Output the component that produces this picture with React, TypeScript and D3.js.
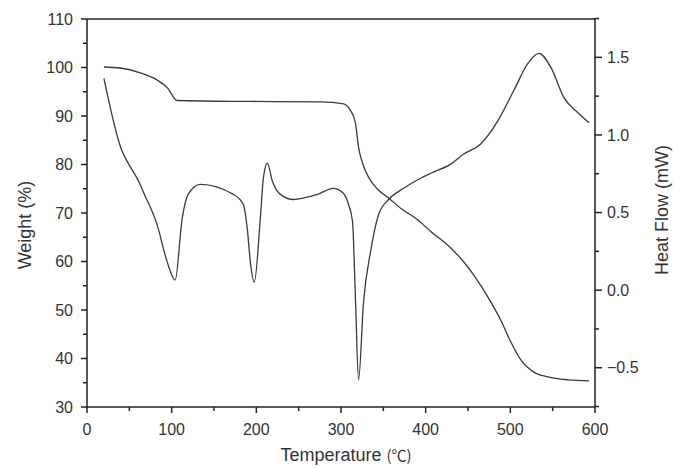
import React from 'react';
import * as d3 from 'd3';

// TG curve (weight %)
const tgTemp = [20, 39, 63, 83, 95, 106.5, 193, 276, 303, 311, 317, 320.7, 325.4, 332.5, 344.4, 356.2, 370.4, 390.5, 406, 429.6, 445, 456.8, 473.4, 488.8, 500.6, 512.4, 527.8, 544.4, 568, 593];
const tgWeight = [100.1, 99.9, 98.9, 97.4, 95.8, 93.2, 93.0, 92.9, 92.5, 91.2, 88.6, 83.6, 80.3, 77.4, 74.7, 73.1, 71.0, 68.6, 66.2, 62.8, 59.9, 57.2, 52.7, 47.9, 43.4, 39.7, 37.2, 36.2, 35.6, 35.4];

// DSC curve (heat flow mW)
const dscTemp = [20, 41.4, 47.3, 62.7, 66.3, 82.8, 94.7, 104.1, 112.4, 119.5, 133.7, 172.8, 184.6, 189.3, 192.9, 197.6, 204.7, 208.3, 213, 219, 228.4, 243.8, 272.2, 291.1, 303, 308.9, 313.6, 317.2, 320.7, 326.6, 334.9, 344.4, 356.2, 374, 394, 405.9, 429.6, 445, 465, 485.2, 504.1, 520.7, 533.7, 547.9, 563.3, 579.9, 593];
const dscHeat = [1.364, 0.896, 0.831, 0.682, 0.636, 0.422, 0.182, 0.065, 0.461, 0.617, 0.682, 0.617, 0.552, 0.396, 0.182, 0.052, 0.461, 0.721, 0.818, 0.701, 0.617, 0.584, 0.617, 0.656, 0.623, 0.552, 0.442, -0.078, -0.578, -0.078, 0.247, 0.487, 0.584, 0.656, 0.721, 0.753, 0.812, 0.877, 0.942, 1.091, 1.286, 1.461, 1.526, 1.435, 1.240, 1.143, 1.078];

const xTicks = [0, 100, 200, 300, 400, 500, 600];
const xMinor = [50, 150, 250, 350, 450, 550];
const weightTicks = [30, 40, 50, 60, 70, 80, 90, 100, 110];
const weightMinor = [35, 45, 55, 65, 75, 85, 95, 105];
const heatTicks = [-0.5, 0.0, 0.5, 1.0, 1.5];
const heatMinor = [-0.75, -0.25, 0.25, 0.75, 1.25, 1.75];

const W = 673, H = 468;
const left = 87, right = 595, top = 19, bottom = 407;
const ink = '#222';
const font = 'Liberation Sans, Arial, sans-serif';

export default function App() {
  const x = d3.scaleLinear().domain([0, 600]).range([left, right]);
  const yW = d3.scaleLinear().domain([30, 110]).range([bottom, top]);
  const yH = d3.scaleLinear().domain([-0.753, 1.747]).range([bottom, top]);

  const tgLine = d3.line<number>()
    .x((d, i) => x(tgTemp[i]))
    .y(d => yW(d))
    .curve(d3.curveMonotoneX);
  const dscLine = d3.line<number>()
    .x((d, i) => x(dscTemp[i]))
    .y(d => yH(d))
    .curve(d3.curveMonotoneX);

  return (
    <svg width={W} height={H} style={{ position: 'absolute', left: 0, top: 0, background: '#fff' }}
      fontFamily={font}>
      <g stroke={ink} strokeWidth={1.5} fill="none">
        <line x1={left} x2={right} y1={top} y2={top} />
        <line x1={left} x2={right} y1={bottom} y2={bottom} />
        <line x1={left} x2={left} y1={top} y2={bottom} />
        <line x1={right} x2={right} y1={top - 1} y2={bottom} />
        {xTicks.map(t => <line key={'x' + t} x1={x(t)} x2={x(t)} y1={bottom} y2={bottom + 6} />)}
        {xMinor.map(t => <line key={'xm' + t} x1={x(t)} x2={x(t)} y1={bottom} y2={bottom + 4} />)}
        {weightTicks.map(t => <line key={'w' + t} x1={left - 6} x2={left} y1={yW(t)} y2={yW(t)} />)}
        {weightMinor.map(t => <line key={'wm' + t} x1={left - 4} x2={left} y1={yW(t)} y2={yW(t)} />)}
        {heatTicks.map(t => <line key={'h' + t} x1={right} x2={right + 7} y1={yH(t)} y2={yH(t)} />)}
        {heatMinor.map(t => <line key={'hm' + t} x1={right} x2={right + 4} y1={yH(t)} y2={yH(t)} />)}
      </g>

      <g fontSize={16} fill="#333">
        {xTicks.map(t => (
          <text key={'xl' + t} x={x(t)} y={435} textAnchor="middle">{t}</text>
        ))}
        {weightTicks.map(t => (
          <text key={'wl' + t} x={73} y={yW(t)} dy="0.35em" textAnchor="end">{t}</text>
        ))}
        {heatTicks.map(t => (
          <text key={'hl' + t} x={607} y={yH(t)} dy="0.35em" textAnchor="start">{d3.format('.1f')(t)}</text>
        ))}
      </g>

      <g fill="#333" fontSize={18}>
        <text x={346} y={461} textAnchor="middle">
          Temperature <tspan fontFamily="Noto Sans CJK SC" fontSize={15}>(℃)</tspan>
        </text>
        <text transform={`translate(31,${225}) rotate(-90)`} textAnchor="middle">Weight (%)</text>
        <text transform={`translate(668,${210}) rotate(-90)`} textAnchor="middle">Heat Flow (mW)</text>
      </g>

      <path d={tgLine(tgWeight) ?? ''} fill="none" stroke="#3a3a3a" strokeWidth={1.3} />
      <path d={dscLine(dscHeat) ?? ''} fill="none" stroke="#3a3a3a" strokeWidth={1.3} />
    </svg>
  );
}
